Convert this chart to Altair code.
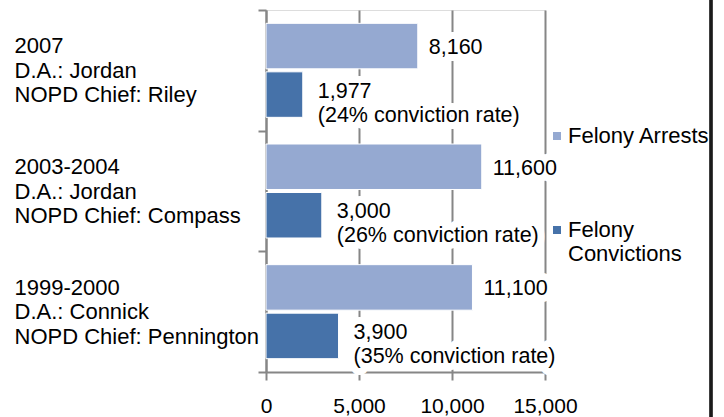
import altair as alt
import pandas as pd

periods = ["2007", "2003-2004", "1999-2000"]
das = ["Jordan", "Jordan", "Connick"]
chiefs = ["Riley", "Compass", "Pennington"]
arrests = [8160, 11600, 11100]
convictions = [1977, 3000, 3900]
rates = [24, 26, 35]
series = ["Felony Arrests", "Felony Convictions"]
colors = ["#95A9D1", "#4672A9"]
x_ticks = [0, 5000, 10000, 15000]

rows = []
cats = []
for p, d, c, a, v, r in zip(periods, das, chiefs, arrests, convictions, rates):
    cat = f"{p}|D.A.: {d}|NOPD Chief: {c}"
    cats.append(cat)
    rows.append(dict(cat=cat, series=series[0], value=a, label=f"{a:,}"))
    rows.append(dict(cat=cat, series=series[1], value=v,
                     label=f"{v:,}\n({r}% conviction rate)"))
df = pd.DataFrame(rows)

FONT = "Liberation Sans"
FS = 21.5
GRAY = "#868686"

y_enc = alt.Y(
    "cat:N", sort=cats,
    scale=alt.Scale(paddingInner=0, paddingOuter=0),
    axis=alt.Axis(
        title=None, labelExpr="split(datum.label, '|')", labelAlign="left",
        labelPadding=244, labelBaseline="middle", labelLineHeight=24.5,
        labelOffset=-24.5,
        labelFontSize=22, labelFont=FONT, labelColor="black", labelLimit=400,
        tickSize=8, tickColor=GRAY, tickWidth=2, tickBand="extent",
        domainColor=GRAY, domainWidth=2, grid=False,
    ),
)
yoff = alt.YOffset("series:N", sort=series,
                   scale=alt.Scale(paddingInner=0.062, paddingOuter=0.275))
x_enc = alt.X(
    "value:Q", scale=alt.Scale(domain=[0, 15000], nice=False),
    axis=alt.Axis(
        title=None, values=x_ticks, format=",d", grid=True, gridColor=GRAY,
        gridWidth=2, tickSize=8, tickColor=GRAY, tickWidth=2,
        domainColor=GRAY, domainWidth=2, labelFontSize=21, labelFont=FONT,
        labelColor="black", labelPadding=15, labelOverlap=False,
        labelFlush=False,
    ),
)

base = alt.Chart(df)

bars = base.mark_bar(stroke="white", strokeWidth=1).encode(
    x=x_enc, y=y_enc, yOffset=yoff,
    color=alt.Color(
        "series:N", sort=series,
        scale=alt.Scale(domain=series, range=colors),
        legend=alt.Legend(
            orient="none", legendX=280, legendY=115, title=None,
            symbolType="square", symbolSize=64, symbolStrokeWidth=0,
            labelFontSize=22, labelFont=FONT, labelColor="black",
            labelOffset=0, labelLimit=300, rowPadding=72,
            labelExpr="datum.label == 'Felony Convictions' ? ['Felony', 'Convictions'] : datum.label",
        ),
    ),
)

def text_layers(s, dx, dy):
    sub = base.transform_filter(alt.datum.series == s)
    enc = dict(x=x_enc, y=y_enc, yOffset=yoff, text="label:N")
    halo = sub.mark_text(align="left", baseline="middle", dx=dx, dy=dy, fontSize=FS,
                         font=FONT, stroke="white", strokeWidth=14, strokeJoin="round",
                         lineBreak="\n", lineHeight=24, color="white").encode(**enc)
    txt = sub.mark_text(align="left", baseline="middle", dx=dx, dy=dy, fontSize=FS,
                        font=FONT, lineBreak="\n", lineHeight=24, color="black").encode(**enc)
    return [halo, txt]

border = alt.Chart(df).mark_rule(color="#1a1a1a", strokeWidth=2.5).encode(
    x=alt.value(445), y=alt.value(-10), y2=alt.value(407)
)

chart = alt.layer(
    bars, *text_layers(series[0], 11, 2), *text_layers(series[1], 15, -3), border
).properties(
    width=279, height=362,
    autosize=alt.AutoSizeParams(type="none"),
    padding={"left": 266, "top": 10, "right": 179, "bottom": 45},
).configure_view(stroke=GRAY, strokeWidth=2).configure(background="white")

chart.save("out.html", embed_options={"renderer": "svg", "actions": False})
